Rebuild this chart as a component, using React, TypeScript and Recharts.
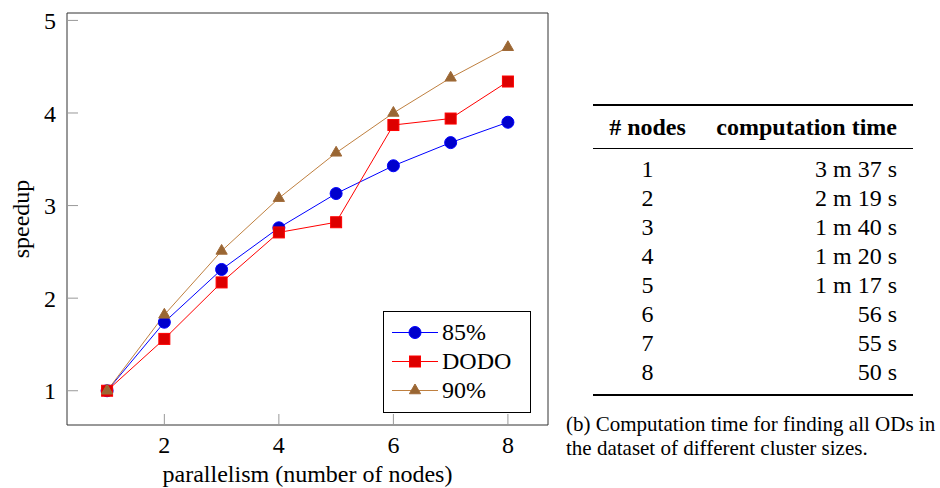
import { LineChart, Line, XAxis, YAxis, Legend } from 'recharts';

const FONT = '"Liberation Serif", "DejaVu Serif", serif';

// speedup per number of nodes
const nodes = [1, 2, 3, 4, 5, 6, 7, 8];
const speedup85 = [1.0, 1.74, 2.31, 2.76, 3.13, 3.43, 3.68, 3.9];
const speedupDodo = [1.0, 1.56, 2.17, 2.71, 2.82, 3.87, 3.94, 4.34];
const speedup90 = [1.0, 1.82, 2.51, 3.08, 3.57, 4.0, 4.38, 4.71];

const xTicks = [2, 4, 6, 8];
const yTicks = [1, 2, 3, 4, 5];

// table (b)
const tableHeader = ['# nodes', 'computation time'];
const tableNodes = ['1', '2', '3', '4', '5', '6', '7', '8'];
const tableTimes = ['3 m 37 s', '2 m 19 s', '1 m 40 s', '1 m 20 s', '1 m 17 s', '56 s', '55 s', '50 s'];
const captionLines = ['(b) Computation time for finding all ODs in', 'the dataset of different cluster sizes.'];

const data = nodes.map((n, i) => ({
  n,
  s85: speedup85[i],
  dodo: speedupDodo[i],
  s90: speedup90[i],
}));

const Circle = (props: any) => {
  const { cx, cy } = props;
  if (cx == null || cy == null) return null;
  return <circle cx={cx} cy={cy} r={6} fill="#0000cc" stroke="#0000ff" strokeWidth={1} />;
};

const Square = (props: any) => {
  const { cx, cy } = props;
  if (cx == null || cy == null) return null;
  return <rect x={cx - 5.5} y={cy - 5.5} width={11} height={11} fill="#dd0000" stroke="#ff0000" strokeWidth={1} />;
};

const Triangle = (props: any) => {
  const { cx, cy } = props;
  if (cx == null || cy == null) return null;
  const r = 6.5;
  const w = r * 0.866;
  return (
    <path
      d={`M${cx},${cy - r} L${cx + w},${cy + r / 2} L${cx - w},${cy + r / 2} Z`}
      fill="#996633"
      stroke="#a06a38"
      strokeWidth={1}
    />
  );
};

const series = [
  { key: 's85', name: '85%', stroke: '#0000ff', Mark: Circle },
  { key: 'dodo', name: 'DODO', stroke: '#ff0000', Mark: Square },
  { key: 's90', name: '90%', stroke: '#bf8040', Mark: Triangle },
];

const renderLegend = () => (
  <div
    style={{
      width: 148,
      height: 102,
      boxSizing: 'border-box',
      border: '1.3px solid #000',
      background: '#fff',
      paddingTop: 6,
    }}
  >
    {series.map((s) => (
      <div key={s.key} style={{ display: 'flex', alignItems: 'center', height: 29 }}>
        <svg width={58} height={29} style={{ display: 'block' }}>
          <line x1={8} y1={14.5} x2={54} y2={14.5} stroke={s.stroke} strokeWidth={1} />
          <s.Mark cx={31} cy={14.5} />
        </svg>
        <span style={{ fontFamily: FONT, fontSize: 24, color: '#000', lineHeight: '29px' }}>{s.name}</span>
      </div>
    ))}
  </div>
);

const tickStyle = { fill: '#000', fontSize: 24, fontFamily: FONT };

export default function App() {
  return (
    <div style={{ position: 'absolute', left: 0, top: 0, width: 940, height: 488, background: '#fff', fontFamily: FONT }}>
      <LineChart width={560} height={488} data={data} margin={{ top: 12, right: 11, bottom: 0, left: 0 }}>
        <XAxis
          dataKey="n"
          type="number"
          domain={[0.3, 8.7]}
          ticks={xTicks}
          allowDataOverflow
          height={63}
          tickSize={-11}
          tickMargin={22}
          tick={tickStyle}
          tickLine={{ stroke: '#999' }}
          axisLine={{ stroke: '#333' }}
          label={{
            content: (p: any) => (
              <text
                x={p.viewBox.x + p.viewBox.width / 2}
                y={p.viewBox.y + 57}
                textAnchor="middle"
                fontFamily={FONT}
                fontSize={24}
                fill="#000"
              >
                parallelism (number of nodes)
              </text>
            ),
          }}
        />
        <XAxis
          xAxisId="top"
          orientation="top"
          type="number"
          domain={[0.3, 8.7]}
          ticks={xTicks}
          allowDataOverflow
          height={1}
          tickSize={-11}
          tick={false}
          tickLine={{ stroke: '#999' }}
          axisLine={{ stroke: '#333' }}
        />
        <YAxis
          type="number"
          domain={[0.63, 5.08]}
          ticks={yTicks}
          allowDataOverflow
          width={67}
          tickSize={-11}
          tickMargin={22}
          tick={tickStyle}
          tickLine={{ stroke: '#999' }}
          axisLine={{ stroke: '#333' }}
          label={{
            content: (p: any) => {
              const cx = 21;
              const cy = p.viewBox.y + p.viewBox.height / 2;
              return (
                <text
                  x={cx}
                  y={cy}
                  transform={`rotate(-90 ${cx} ${cy})`}
                  textAnchor="middle"
                  dominantBaseline="central"
                  fontFamily={FONT}
                  fontSize={24}
                  fill="#000"
                >
                  speedup
                </text>
              );
            },
          }}
        />
        <YAxis
          yAxisId="right"
          orientation="right"
          type="number"
          domain={[0.63, 5.08]}
          ticks={yTicks}
          allowDataOverflow
          width={1}
          tickSize={-11}
          tick={false}
          tickLine={{ stroke: '#999' }}
          axisLine={{ stroke: '#333' }}
        />
        {series.map((s) => (
          <Line
            key={s.key}
            type="linear"
            dataKey={s.key}
            name={s.name}
            stroke={s.stroke}
            strokeWidth={1}
            dot={<s.Mark />}
            activeDot={false}
            isAnimationActive={false}
          />
        ))}
        <Legend
          layout="horizontal"
          align="center"
          verticalAlign="middle"
          content={renderLegend}
          wrapperStyle={{ left: 383, top: 311, width: 148, height: 102 }}
        />
      </LineChart>

      {/* table (b) */}
      <div style={{ position: 'absolute', left: 593, top: 104, width: 320, height: 2, background: '#000' }} />
      <div
        style={{
          position: 'absolute',
          left: 593,
          top: 113,
          width: 320,
          height: 29,
          lineHeight: '29px',
          fontSize: 24,
          fontWeight: 'bold',
          display: 'flex',
        }}
      >
        <div style={{ width: 109, textAlign: 'center' }}>{tableHeader[0]}</div>
        <div style={{ width: 195, textAlign: 'right' }}>{tableHeader[1]}</div>
      </div>
      <div style={{ position: 'absolute', left: 593, top: 147.5, width: 320, height: 1.3, background: '#000' }} />
      {tableNodes.map((n, i) => (
        <div
          key={n}
          style={{
            position: 'absolute',
            left: 593,
            top: 155 + i * 29,
            width: 320,
            height: 29,
            lineHeight: '29px',
            fontSize: 24,
            display: 'flex',
          }}
        >
          <div style={{ width: 109, textAlign: 'center' }}>{n}</div>
          <div style={{ width: 195, textAlign: 'right' }}>{tableTimes[i]}</div>
        </div>
      ))}
      <div style={{ position: 'absolute', left: 593, top: 394, width: 320, height: 2, background: '#000' }} />

      <div style={{ position: 'absolute', left: 566, top: 412, fontSize: 21, lineHeight: '24px', whiteSpace: 'nowrap' }}>
        {captionLines.map((l) => (
          <div key={l}>{l}</div>
        ))}
      </div>
    </div>
  );
}
